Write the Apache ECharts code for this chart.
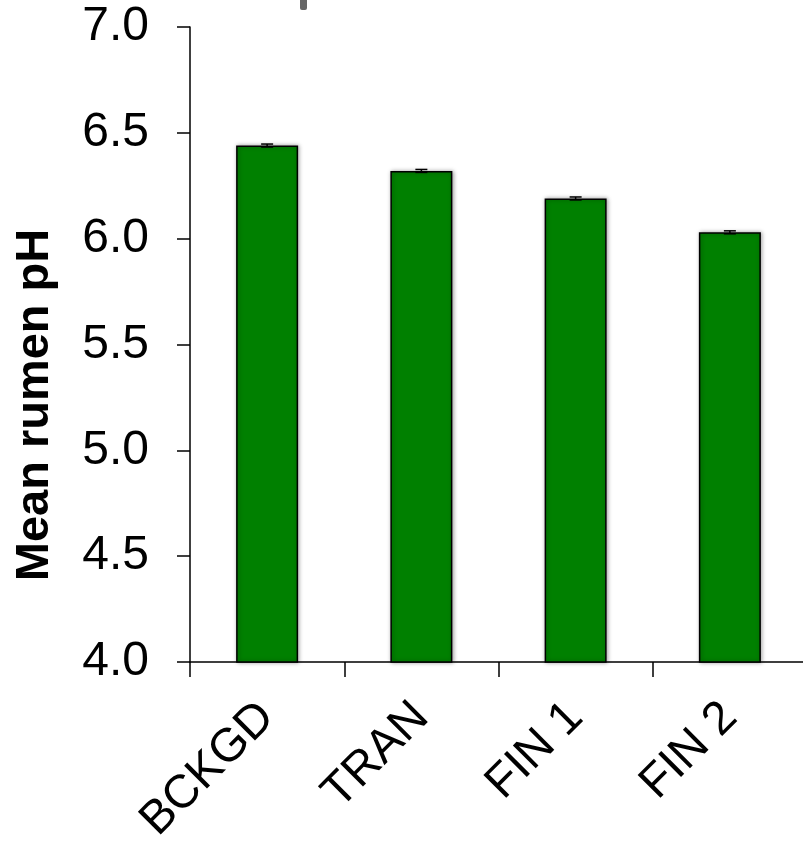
<!DOCTYPE html>
<html>
<head>
<meta charset="utf-8">
<script src="https://cdn.jsdelivr.net/npm/echarts@6/dist/echarts.min.js"></script>
<style>
  html, body { margin: 0; padding: 0; background: #fff; }
  #chart { width: 803px; height: 841px; }
</style>
</head>
<body>
<div id="chart"></div>
<script>
// Phase of the feeding trial and mean rumen pH for each phase
const categories = ['BCKGD', 'TRAN', 'FIN 1', 'FIN 2'];
const meanPH = [6.44, 6.32, 6.19, 6.03];
const stdErr = [0.007, 0.007, 0.007, 0.007];
const yTicks = { min: 4.0, max: 7.0, step: 0.5 };

const FONT = "'Liberation Sans', Arial, Helvetica, sans-serif";
const chart = echarts.init(document.getElementById('chart'), null, { renderer: 'canvas' });

const errData = meanPH.map((v, i) => [i, v - stdErr[i], v + stdErr[i]]);

chart.setOption({
  animation: false,
  backgroundColor: '#ffffff',
  grid: {
    left: 190, right: -4, top: 27, bottom: 179,
    containLabel: false, outerBoundsMode: 'none'
  },
  xAxis: {
    type: 'category',
    data: categories,
    boundaryGap: true,
    axisLine: { lineStyle: { color: '#000', width: 1.5 } },
    axisTick: { show: true, length: 15, lineStyle: { color: '#000', width: 1.5 } },
    axisLabel: {
      rotate: 45, margin: 48, color: '#000', fontSize: 47, fontFamily: FONT
    },
    splitLine: { show: false }
  },
  yAxis: {
    type: 'value',
    min: yTicks.min, max: yTicks.max, interval: yTicks.step,
    axisLine: { show: true, lineStyle: { color: '#000', width: 1.5 } },
    axisTick: { show: true, length: 13, lineStyle: { color: '#000', width: 1.5 } },
    axisLabel: {
      margin: 41, color: '#000', fontSize: 48, fontFamily: FONT,
      formatter: v => v.toFixed(1)
    },
    splitLine: { show: false }
  },
  series: [
    {
      type: 'bar',
      data: meanPH,
      barWidth: 62,
      itemStyle: {
        color: '#008000',
        borderColor: '#000',
        borderWidth: 1.5,
        shadowColor: 'rgba(0,0,0,0.35)',
        shadowBlur: 4,
        shadowOffsetX: 1,
        shadowOffsetY: 0
      },
      z: 2
    },
    {
      type: 'custom',
      data: errData,
      z: 3,
      renderItem: (params, api) => {
        const x = api.coord([api.value(0), 0])[0];
        const lo = api.coord([api.value(0), api.value(1)])[1];
        const hi = api.coord([api.value(0), api.value(2)])[1];
        const half = 6;
        const st = { stroke: '#000', lineWidth: 1.5 };
        return {
          type: 'group',
          children: [
            { type: 'line', shape: { x1: x, y1: lo, x2: x, y2: hi }, style: st },
            { type: 'line', shape: { x1: x - half, y1: hi, x2: x + half, y2: hi }, style: st },
            { type: 'line', shape: { x1: x - half, y1: lo, x2: x + half, y2: lo }, style: st }
          ]
        };
      }
    }
  ],
  graphic: [
    {
      type: 'text',
      x: 35, y: 405,
      rotation: Math.PI / 2,
      style: {
        text: 'Mean rumen pH',
        font: 'bold 47px ' + FONT,
        fill: '#000',
        textAlign: 'center',
        textVerticalAlign: 'middle'
      }
    },
    {
      type: 'rect',
      shape: { x: 300, y: -4, width: 7, height: 14, r: 2 },
      style: { fill: '#666' }
    }
  ]
});
</script>
</body>
</html>
